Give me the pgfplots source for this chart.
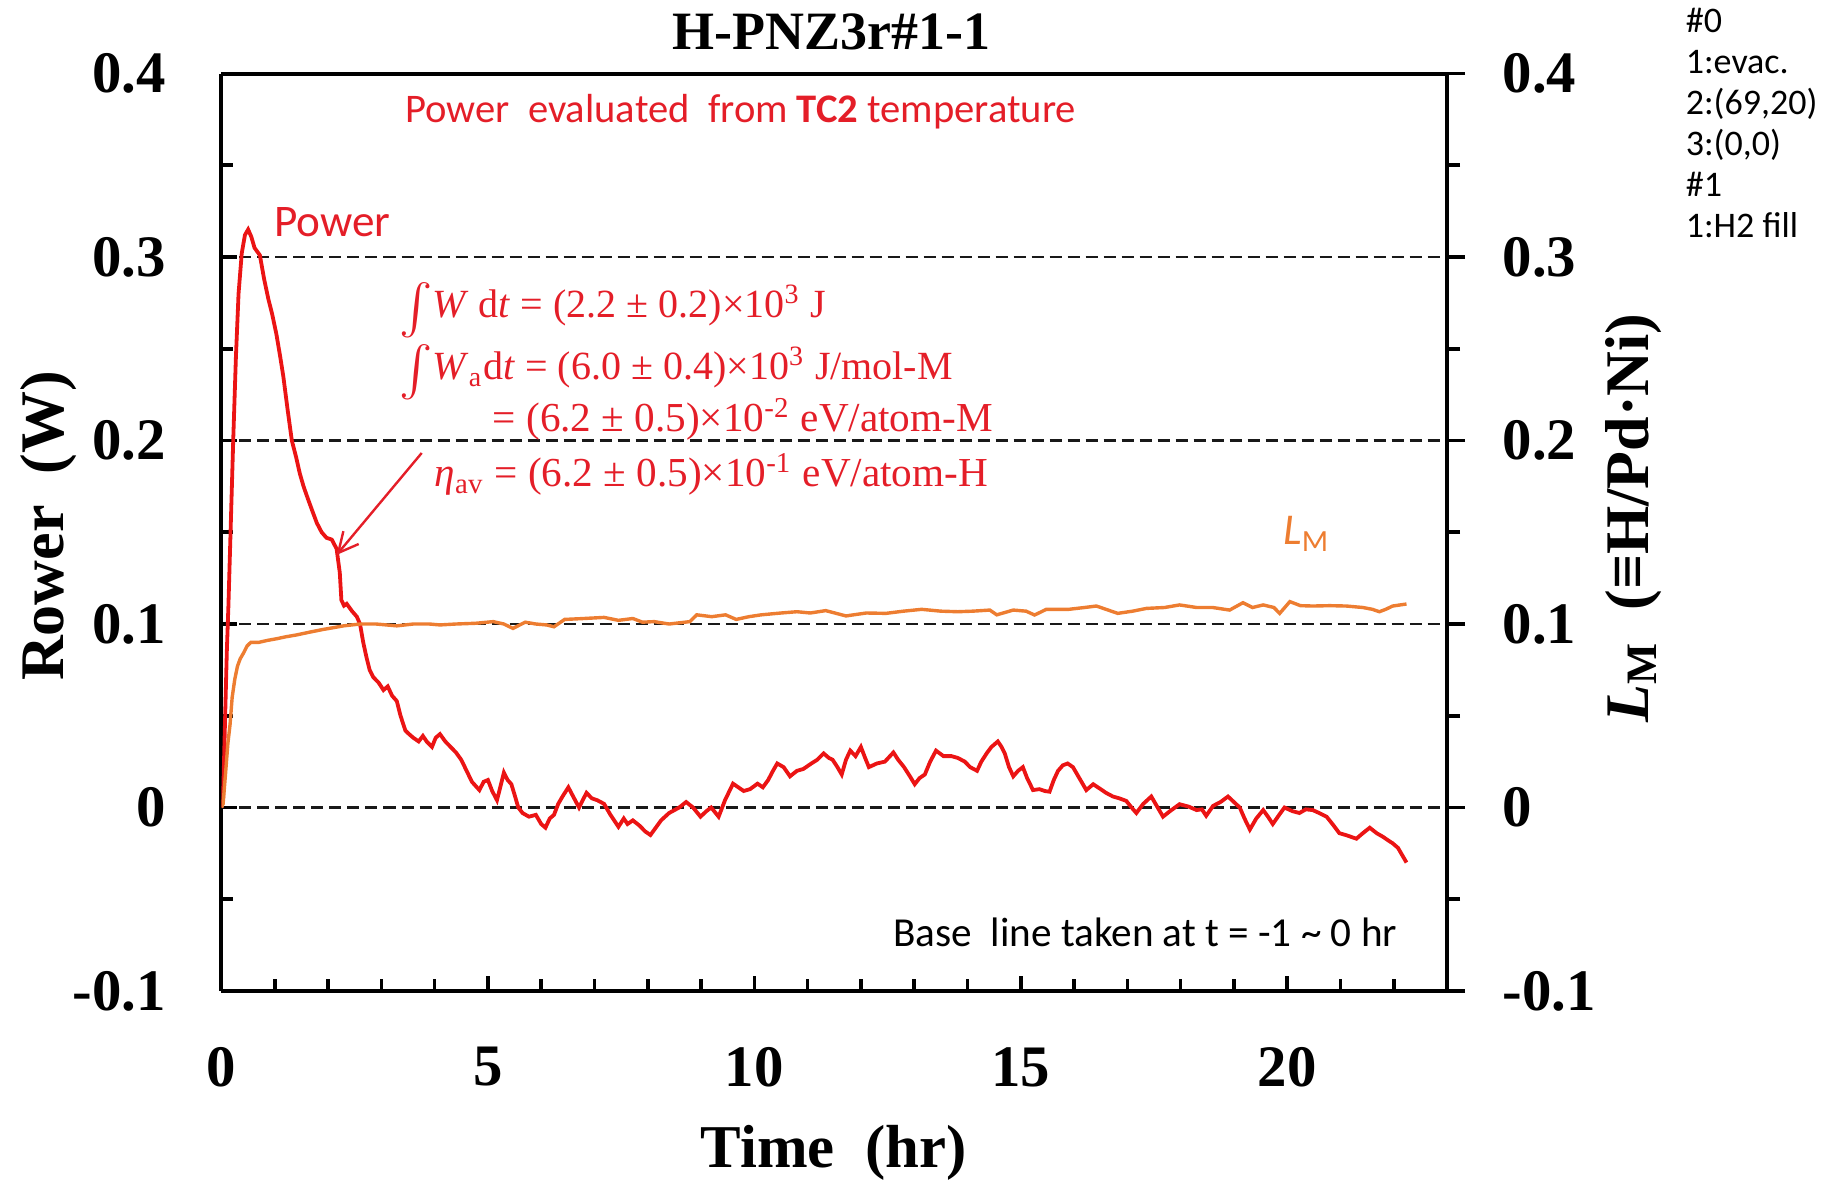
\documentclass[border=0pt]{standalone}
\usepackage{fontspec}
\setmainfont{Liberation Serif}
\newfontfamily\calib{Carlito}
\usepackage{graphicx}
\usepackage{pgfplots}
\pgfplotsset{compat=1.18}
\usetikzlibrary{arrows.meta}
\definecolor{pred}{RGB}{235,20,20}
\definecolor{tred}{RGB}{228,30,40}
\definecolor{porange}{RGB}{237,125,49}

\pgfplotstableread{
t v
0 0
0.03 0.005
0.06 0.04
0.1 0.085
0.13 0.11
0.17 0.15
0.22 0.2
0.27 0.245
0.32 0.28
0.38 0.302
0.44 0.312
0.5 0.315
0.56 0.311
0.62 0.305
0.72 0.301
0.8 0.288
0.88 0.277
0.95 0.269
1.03 0.258
1.1 0.246
1.16 0.235
1.24 0.217
1.32 0.2
1.4 0.191
1.47 0.182
1.54 0.175
1.6 0.17
1.7 0.162
1.79 0.155
1.88 0.15
1.97 0.147
2.07 0.146
2.16 0.141
2.22 0.128
2.25 0.113
2.3 0.11
2.35 0.111
2.45 0.107
2.54 0.104
2.6 0.1
2.66 0.09
2.72 0.082
2.78 0.075
2.85 0.071
2.95 0.068
3.04 0.064
3.12 0.066
3.2 0.061
3.29 0.058
3.36 0.05
3.45 0.042
3.52 0.04
3.6 0.038
3.7 0.036
3.78 0.039
3.85 0.036
3.95 0.033
4.02 0.038
4.1 0.04
4.2 0.036
4.3 0.033
4.4 0.03
4.5 0.026
4.6 0.02
4.7 0.014
4.84 0.0095
4.92 0.014
5.0 0.015
5.08 0.009
5.17 0.004
5.24 0.012
5.3 0.019
5.37 0.015
5.44 0.0127
5.5 0.007
5.57 0
5.65 -0.003
5.77 -0.005
5.9 -0.004
6.0 -0.009
6.08 -0.011
6.16 -0.006
6.24 -0.004
6.32 0.002
6.4 0.006
6.51 0.011
6.6 0.006
6.71 0
6.78 0.004
6.85 0.008
6.95 0.005
7.05 0.004
7.18 0.002
7.3 -0.004
7.45 -0.0105
7.55 -0.006
7.62 -0.009
7.72 -0.007
7.85 -0.01
7.95 -0.013
8.05 -0.015
8.15 -0.011
8.25 -0.007
8.4 -0.003
8.59 0
8.72 0.003
8.85 0
8.99 -0.005
9.1 -0.002
9.19 0
9.33 -0.005
9.45 0.004
9.6 0.013
9.7 0.011
9.8 0.009
9.92 0.01
10.06 0.013
10.16 0.011
10.26 0.015
10.35 0.02
10.43 0.024
10.55 0.022
10.67 0.017
10.8 0.02
10.92 0.021
11.07 0.024
11.18 0.026
11.3 0.0295
11.4 0.027
11.47 0.026
11.56 0.022
11.64 0.018
11.72 0.026
11.8 0.031
11.9 0.028
12.0 0.033
12.08 0.027
12.15 0.022
12.3 0.024
12.45 0.025
12.61 0.03
12.7 0.026
12.81 0.022
12.92 0.017
13.01 0.0127
13.1 0.016
13.2 0.018
13.3 0.025
13.41 0.031
13.55 0.028
13.7 0.028
13.82 0.027
13.95 0.025
14.05 0.022
14.18 0.02
14.26 0.025
14.36 0.0295
14.45 0.033
14.57 0.036
14.64 0.033
14.7 0.0295
14.78 0.022
14.86 0.017
14.95 0.02
15.04 0.022
15.12 0.016
15.23 0.0095
15.35 0.01
15.45 0.009
15.54 0.0086
15.62 0.015
15.7 0.02
15.79 0.023
15.88 0.024
15.98 0.022
16.08 0.017
16.16 0.013
16.23 0.0095
16.36 0.0127
16.5 0.01
16.6 0.008
16.73 0.006
16.85 0.005
16.98 0.0036
17.08 0.0
17.17 -0.003
17.3 0.002
17.45 0.006
17.55 0.001
17.67 -0.005
17.8 -0.002
17.98 0.0018
18.15 0.0005
18.3 -0.0014
18.4 -0.001
18.48 -0.0045
18.61 0.0009
18.75 0.003
18.89 0.006
19.0 0.003
19.11 0
19.2 -0.006
19.3 -0.012
19.42 -0.006
19.55 -0.0014
19.64 -0.005
19.73 -0.009
19.85 -0.004
19.95 0
20.1 -0.002
20.23 -0.003
20.35 -0.001
20.48 -0.0014
20.6 -0.003
20.74 -0.005
20.85 -0.009
20.98 -0.014
21.1 -0.015
21.2 -0.016
21.3 -0.017
21.42 -0.014
21.55 -0.011
21.68 -0.014
21.8 -0.016
21.9 -0.018
21.98 -0.0195
22.08 -0.022
22.16 -0.026
22.24 -0.03
}\powertable

\pgfplotstableread{
t v
0 0
0.03 0.002
0.08 0.02
0.12 0.035
0.16 0.045
0.2 0.06
0.25 0.07
0.3 0.077
0.35 0.081
0.41 0.084
0.48 0.088
0.55 0.09
0.7 0.09
0.85 0.091
1.04 0.092
1.2 0.093
1.4 0.094
1.66 0.0956
1.9 0.097
2.1 0.098
2.29 0.099
2.6 0.1
2.9 0.1
3.29 0.099
3.6 0.1
3.9 0.1
4.1 0.0995
4.4 0.1
4.77 0.1004
5.1 0.1013
5.3 0.1
5.47 0.0976
5.7 0.101
5.9 0.1
6.1 0.0995
6.24 0.0985
6.44 0.1025
6.8 0.103
7.18 0.1036
7.45 0.102
7.72 0.103
7.9 0.101
8.12 0.1013
8.4 0.1
8.79 0.1013
8.92 0.105
9.2 0.104
9.46 0.105
9.66 0.1025
9.9 0.104
10.13 0.105
10.5 0.106
10.8 0.1067
11.05 0.106
11.34 0.1073
11.72 0.1044
12.1 0.106
12.47 0.1058
12.8 0.107
13.14 0.108
13.5 0.107
13.82 0.1067
14.1 0.107
14.42 0.1076
14.55 0.105
14.86 0.1076
15.1 0.107
15.26 0.1049
15.48 0.108
15.9 0.108
16.2 0.109
16.42 0.1098
16.6 0.108
16.82 0.1058
17.1 0.107
17.36 0.1085
17.7 0.109
17.98 0.1104
18.3 0.109
18.6 0.109
18.92 0.1076
19.17 0.1116
19.35 0.109
19.55 0.1104
19.75 0.109
19.86 0.1058
20.05 0.1122
20.25 0.11
20.48 0.1098
20.8 0.11
21.11 0.1098
21.42 0.109
21.6 0.108
21.73 0.1067
21.85 0.108
21.98 0.1098
22.24 0.1109
}\lmtable

\newcommand{\bigint}{\raisebox{-0.12em}{\scalebox{1.25}{$\int$}}}

\begin{document}
\begin{tikzpicture}
\useasboundingbox (-55.375pt,-47pt) rectangle (401.625pt,247.75pt);

\begin{axis}[
  at={(0pt,0pt)}, anchor=south west,
  scale only axis, width=306.375pt, height=229.375pt,
  xmin=0, xmax=23, ymin=-0.1, ymax=0.4,
  axis y line*=left,
  xtick={0,5,10,15,20}, xticklabels={0,5,10,15,20},
  minor xtick={1,2,3,4,6,7,8,9,11,12,13,14,16,17,18,19,21,22},
  xtick pos=left,
  ytick={-0.1,0,0.1,0.2,0.3,0.4}, yticklabels={-0.1,0,0.1,0.2,0.3,0.4},
  minor ytick={-0.05,0.05,0.15,0.25,0.35},
  tick align=inside,
  major tick length=3.75pt, minor tick length=2.9pt,
  every tick/.style={black, line width=0.9pt},
  axis line style={line width=1pt},
  ymajorgrids,
  major grid style={line width=0.55pt, black!90, dash pattern=on 3pt off 1.5pt},
  tick label style={font=\fontsize{14.7}{16}\selectfont\bfseries},
  xticklabel style={anchor=center, inner sep=0pt},
  xticklabel shift=19pt,
  yticklabel style={anchor=east, inner sep=0pt},
  yticklabel shift=13.7pt,
]
\addplot[pred, line width=0.95pt] table[x=t, y=v] {\powertable};
\end{axis}

\begin{axis}[
  at={(0pt,0pt)}, anchor=south west,
  scale only axis, width=306.375pt, height=229.375pt,
  xmin=0, xmax=23, ymin=-0.1, ymax=0.4,
  axis y line*=right, axis x line=none,
  ytick={-0.1,0,0.1,0.2,0.3,0.4}, yticklabels={-0.1,0,0.1,0.2,0.3,0.4},
  minor ytick={-0.05,0.05,0.15,0.25,0.35},
  tick align=outside,
  major tick length=4.5pt, minor tick length=3.25pt,
  every tick/.style={black, line width=0.9pt},
  axis line style={line width=1pt},
  tick label style={font=\fontsize{14.7}{16}\selectfont\bfseries},
  yticklabel style={anchor=west, inner sep=0pt},
  yticklabel shift=9.25pt,
]
\addplot[porange, line width=0.85pt] table[x=t, y=v] {\lmtable};
\end{axis}

\begin{scope}[x=0.25pt, y=0.25pt]
\node[anchor=base, inner sep=0pt, font=\fontsize{13.5}{16}\selectfont\bfseries] at (610,941) {H-PNZ3r\#1-1};
\node[anchor=base west, inner sep=0pt, text=tred, font=\calib\fontsize{10.15}{12}\selectfont] at (183,868) {Power\ \ evaluated\ \ from \textbf{TC2} temperature};
\node[anchor=base west, inner sep=0pt, text=tred, font=\calib\fontsize{11.3}{13}\selectfont] at (52,754.3) {Power};
\node[anchor=base west, inner sep=0pt, text=porange, font=\calib\fontsize{11}{13}\selectfont] at (1061,446) {\textit{L}\textsubscript{M}};
\node[anchor=base west, inner sep=0pt, text=tred, font=\fontsize{10}{12}\selectfont] at (177,673) {\bigint\textit{W} d\textit{t} = (2.2 ± 0.2)×10\textsuperscript{3} J};
\node[anchor=base west, inner sep=0pt, text=tred, font=\fontsize{10}{12}\selectfont] at (177,611) {\bigint\textit{W}\textsubscript{a}d\textit{t} = (6.0 ± 0.4)×10\textsuperscript{3} J/mol-M};
\node[anchor=base west, inner sep=0pt, text=tred, font=\fontsize{10.3}{12}\selectfont] at (270.5,559) {= (6.2 ± 0.5)×10\textsuperscript{-2} eV/atom-M};
\node[anchor=base west, inner sep=0pt, text=tred, font=\fontsize{10.3}{12}\selectfont] at (212.5,504) {\textit{η}\textsubscript{av} = (6.2 ± 0.5)×10\textsuperscript{-1} eV/atom-H};
\draw[tred, line width=0.6pt, -{Straight Barb[length=5pt,width=5pt]}] (200.2,538) -- (115,436);
\node[anchor=base west, inner sep=0pt, font=\calib\fontsize{10.3}{12}\selectfont] at (671,44.3) {Base\ \ line taken at t = -1 \textasciitilde{} 0 hr};
\node[anchor=base, inner sep=0pt, font=\fontsize{15.2}{18}\selectfont\bfseries] at (612,-176) {Time\ \ (hr)};
\node[rotate=90, anchor=base, inner sep=0pt, font=\fontsize{15.5}{18}\selectfont\bfseries] at (-158.2,465) {Rower\ \ (W)};
\node[rotate=90, anchor=base, inner sep=0pt, font=\fontsize{15.5}{18}\selectfont\bfseries] at (1426.5,473) {\textit{L}\textsubscript{M}\ \ (≡H/Pd·Ni)};
\begin{scope}[font=\calib\fontsize{9}{11}\selectfont]
\node[anchor=base west, inner sep=0pt] at (1463.5,958.5) {\#0};
\node[anchor=base west, inner sep=0pt] at (1463.5,917.5) {1:evac.};
\node[anchor=base west, inner sep=0pt] at (1463.5,876.5) {2:(69,20)};
\node[anchor=base west, inner sep=0pt] at (1463.5,835.5) {3:(0,0)};
\node[anchor=base west, inner sep=0pt] at (1463.5,794.5) {\#1};
\node[anchor=base west, inner sep=0pt] at (1463.5,753.5) {1:H2 fill};
\end{scope}
\end{scope}
\end{tikzpicture}
\end{document}
